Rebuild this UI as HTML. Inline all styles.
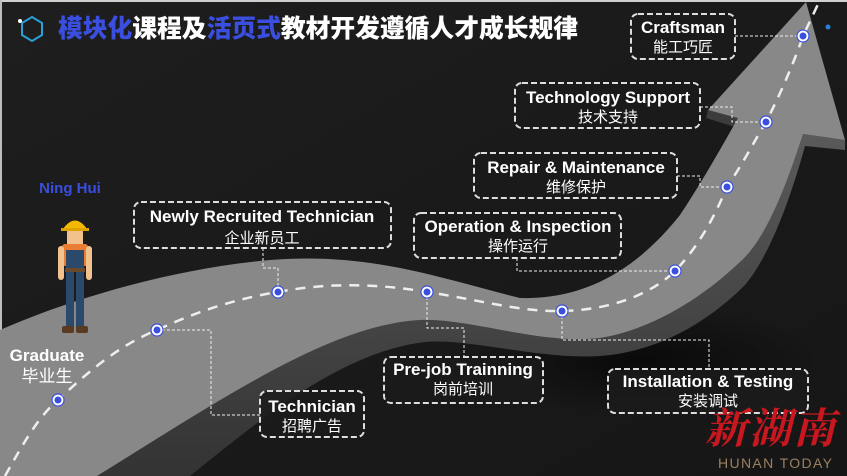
<!DOCTYPE html>
<html><head><meta charset="utf-8"><style>
html,body{margin:0;padding:0;background:#1b1b1b;}
svg{display:block}
.en{font-family:"Liberation Sans",sans-serif;font-weight:bold;fill:#fff;}
.cn{font-family:"Liberation Sans","Noto Sans CJK SC",sans-serif;fill:#fff;}
</style></head><body>
<svg width="847" height="476" viewBox="0 0 847 476" xmlns="http://www.w3.org/2000/svg">
<defs>
<linearGradient id="bg" x1="0" y1="0" x2="1" y2="1"><stop offset="0" stop-color="#1e1e1e"/><stop offset="1" stop-color="#161616"/></linearGradient>
<radialGradient id="sh" cx="0.5" cy="0.5" r="0.5"><stop offset="0" stop-color="#000" stop-opacity="0.6"/><stop offset="1" stop-color="#000" stop-opacity="0"/></radialGradient>
<linearGradient id="side" x1="0" y1="0" x2="0" y2="1"><stop offset="0" stop-color="#5a5a5a"/><stop offset="1" stop-color="#333"/></linearGradient>
</defs>
<rect width="847" height="476" fill="url(#bg)"/>
<rect width="847" height="2" fill="#cfcfcf"/>
<rect x="0" y="0" width="2" height="476" fill="#bdbdbd"/>
<ellipse cx="640" cy="360" rx="180" ry="55" fill="url(#sh)"/>
<!-- 3D side -->
<path d="M97,476 C220,400 330,325 420,320 C470,318 540,345 600,338 C650,330 700,300 740,262 C765,240 785,190 803,134 L845,140 L845,150 L805,146 C790,200 770,255 745,285 C705,325 655,352 600,356 C540,360 470,338 425,342 C340,352 260,420 190,476 Z" fill="url(#side)"/>
<path d="M708,110 L740,118 L738,128 L706,118 Z" fill="#3c3c3c"/>
<!-- main band -->
<path d="M0,330 C80,295 180,268 270,260 C370,252 440,278 520,298 C590,300 640,265 680,215 C700,185 720,150 738,118 L708,110 L806,2 L845,140 L803,134 C785,190 765,240 740,262 C700,300 650,330 600,338 C540,345 470,318 420,320 C330,325 220,400 97,476 L0,476 Z" fill="#888"/>
<!-- dashed path -->
<path d="M5,476 C25,440 40,415 58,400 C90,370 120,345 157,330 C200,310 240,298 278,292 C330,282 380,284 427,292 C480,300 520,312 562,311 C610,310 650,295 675,271 C700,245 715,215 727,187 C745,160 755,140 766,122 C780,95 795,60 803,36 L820,0" fill="none" stroke="#eee" stroke-width="2.5" stroke-dasharray="10,8"/>
<g fill="none" stroke="#eee" stroke-width="1" stroke-dasharray="3,2">
<path d="M735,36 H803"/>
<path d="M700,107 H732 V122 H766"/>
<path d="M677,176 H700 V187 H727"/>
<path d="M517,258 V271 H675"/>
<path d="M263,248 V268 H278 V292"/>
<path d="M157,330 H211 V415 H260"/>
<path d="M427,292 V328 H464 V357"/>
<path d="M562,311 V340 H709 V369"/>
</g>
<g fill="#fff" stroke="#3a4fe0" stroke-width="1.2">
<circle cx="58" cy="400" r="6"/><circle cx="157" cy="330" r="6"/><circle cx="278" cy="292" r="6"/><circle cx="427" cy="292" r="6"/><circle cx="562" cy="311" r="6"/><circle cx="675" cy="271" r="6"/><circle cx="727" cy="187" r="6"/><circle cx="766" cy="122" r="6"/><circle cx="803" cy="36" r="6"/>
</g>
<g fill="#3a4fe0">
<circle cx="58" cy="400" r="3.5"/><circle cx="157" cy="330" r="3.5"/><circle cx="278" cy="292" r="3.5"/><circle cx="427" cy="292" r="3.5"/><circle cx="562" cy="311" r="3.5"/><circle cx="675" cy="271" r="3.5"/><circle cx="727" cy="187" r="3.5"/><circle cx="766" cy="122" r="3.5"/><circle cx="803" cy="36" r="3.5"/>
</g>
<circle cx="828" cy="27" r="2.5" fill="#2a7fd8"/>
<g fill="#1b1b1b" fill-opacity="0.85" stroke="#ddd" stroke-width="2" stroke-dasharray="6,3">
<rect x="631" y="14" width="104" height="45" rx="7"/>
<rect x="515" y="83" width="185" height="45" rx="7"/>
<rect x="474" y="153" width="203" height="45" rx="7"/>
<rect x="414" y="213" width="207" height="45" rx="7"/>
<rect x="134" y="202" width="257" height="46" rx="7"/>
<rect x="384" y="357" width="159" height="46" rx="7"/>
<rect x="608" y="369" width="200" height="44" rx="7"/>
<rect x="260" y="391" width="104" height="46" rx="7"/>
</g>
<g text-anchor="middle">
<text class="en" x="683" y="33" font-size="17">Craftsman</text><text class="cn" x="683" y="52" font-size="15">能工巧匠</text>
<text class="en" x="608" y="103" font-size="17">Technology Support</text><text class="cn" x="608" y="122" font-size="15">技术支持</text>
<text class="en" x="576" y="173" font-size="17">Repair &amp; Maintenance</text><text class="cn" x="576" y="192" font-size="15">维修保护</text>
<text class="en" x="518" y="232" font-size="17">Operation &amp; Inspection</text><text class="cn" x="518" y="251" font-size="15">操作运行</text>
<text class="en" x="262" y="222" font-size="17">Newly Recruited Technician</text><text class="cn" x="262" y="243" font-size="15">企业新员工</text>
<text class="en" x="463" y="375" font-size="17">Pre-job Trainning</text><text class="cn" x="463" y="394" font-size="15">岗前培训</text>
<text class="en" x="708" y="387" font-size="17">Installation &amp; Testing</text><text class="cn" x="708" y="406" font-size="15">安装调试</text>
<text class="en" x="312" y="412" font-size="17">Technician</text><text class="cn" x="312" y="431" font-size="15">招聘广告</text>
<text class="en" x="47" y="361" font-size="17">Graduate</text><text class="cn" x="47" y="382" font-size="17">毕业生</text>
<text class="en" x="70" y="193" font-size="15" style="fill:#3a4fe0">Ning Hui</text>
</g>
<polygon points="32,17 42,23 42,35 32,41 22,35 22,23" fill="none" stroke="#2a9fd8" stroke-width="2"/>
<circle cx="20" cy="21" r="2" fill="#fff"/>
<text x="58" y="37" font-size="25" textLength="520" lengthAdjust="spacingAndGlyphs" style="font-family:'Noto Sans CJK SC',sans-serif;font-weight:900"><tspan fill="#3a4fe0">模块化</tspan><tspan fill="#fff">课程及</tspan><tspan fill="#3a4fe0">活页式</tspan><tspan fill="#fff">教材开发遵循人才成长规律</tspan></text>
<g>
<rect x="67" y="228" width="16" height="20" rx="4" fill="#f2c28e"/>
<path d="M63,229 Q75,212 87,229 Z" fill="#f5b800"/>
<rect x="61" y="228" width="28" height="3" fill="#e0a400"/>
<rect x="62" y="244" width="26" height="22" rx="3" fill="#e97d34"/>
<rect x="58" y="246" width="6" height="34" rx="3" fill="#f2c28e"/>
<rect x="86" y="246" width="6" height="34" rx="3" fill="#f2c28e"/>
<rect x="66" y="250" width="18" height="22" fill="#2b4a6b"/>
<rect x="65" y="268" width="20" height="4" fill="#6b4a2b"/>
<rect x="66" y="272" width="8" height="56" fill="#2b4a6b"/>
<rect x="76" y="272" width="8" height="56" fill="#2b4a6b"/>
<rect x="62" y="326" width="12" height="7" rx="2" fill="#5a3a20"/>
<rect x="76" y="326" width="12" height="7" rx="2" fill="#5a3a20"/>
</g>
<text x="705" y="443" font-size="42" font-weight="bold" fill="#c8171e" style="font-family:'Noto Serif CJK SC',serif;font-style:italic" textLength="130">新湖南</text>
<text x="718" y="468" font-size="14" fill="#9a8060" style="font-family:'Liberation Sans',sans-serif" textLength="114">HUNAN TODAY</text>
</svg>
</body></html>
